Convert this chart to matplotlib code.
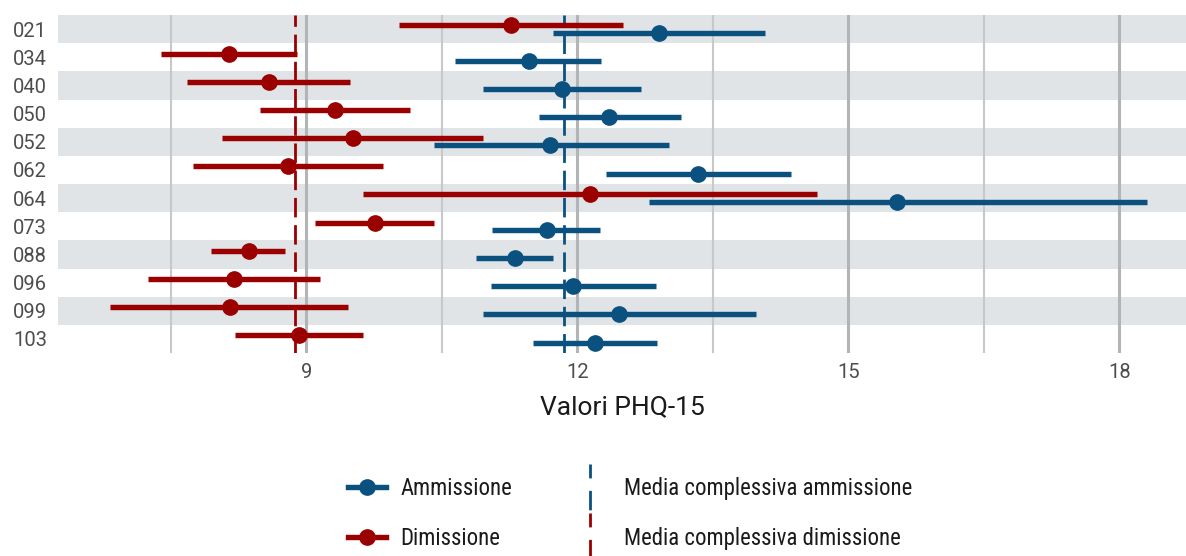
"""Forest plot PHQ-15: media e IC per paziente, ammissione vs dimissione."""
import matplotlib
matplotlib.use("Agg")
import matplotlib.pyplot as plt
import numpy as np
from matplotlib.legend_handler import HandlerBase
from matplotlib.lines import Line2D

plt.rcParams["font.family"] = ["Roboto", "DejaVu Sans"]
COND = ["Roboto Condensed", "Roboto", "DejaVu Sans"]

# --- dati ---
pazienti = ["021", "034", "040", "050", "052", "062", "064", "073", "088", "096", "099", "103"]

amm_mean = [12.90, 11.46, 11.83, 12.35, 11.70, 13.34, 15.54, 11.66, 11.31, 11.95, 12.46, 12.20]
amm_lo = [11.73, 10.65, 10.96, 11.57, 10.41, 12.32, 12.79, 11.06, 10.88, 11.04, 10.95, 11.51]
amm_hi = [14.08, 12.26, 12.71, 13.15, 13.01, 14.37, 18.31, 12.25, 11.73, 12.87, 13.98, 12.88]

dim_mean = [11.27, 8.14, 8.58, 9.32, 9.51, 8.80, 12.14, 9.76, 8.36, 8.20, 8.15, 8.92]
dim_lo = [10.03, 7.39, 7.68, 8.49, 8.07, 7.74, 9.63, 9.10, 7.94, 7.25, 6.83, 8.21]
dim_hi = [12.50, 8.90, 9.48, 10.15, 10.95, 9.85, 14.65, 10.41, 8.76, 9.15, 9.46, 9.63]

media_amm = 11.85
media_dim = 8.87

BLUE = "#0a5180"
RED = "#9b0000"
BAND = "#e1e4e7"
DASH = (0, (7, 2.8))


class VLineHandler(HandlerBase):
    """Legend key: vertical dashed line spanning the whole row."""

    def create_artists(self, legend, orig_handle, xdescent, ydescent,
                       width, height, fontsize, trans):
        x = width / 2 - xdescent
        mid = height / 2 - ydescent
        ln = Line2D([x, x], [mid + 17, mid - 17], color=orig_handle.get_color(),
                    lw=2.0, linestyle=(2, (7, 4.5)))
        ln.set_transform(trans)
        return [ln]


fig = plt.figure(figsize=(11.86, 5.56), dpi=100)
ax = fig.add_axes([0.049, 0.365, 0.951, 0.608])

y = np.arange(len(pazienti))
off = 0.13

for i in y[::2]:
    ax.axhspan(i - 0.5, i + 0.5, color=BAND, lw=0, zorder=0)

ax.axvline(media_amm, color=BLUE, lw=2.0, linestyle=DASH, zorder=2)
ax.axvline(media_dim, color=RED, lw=2.0, linestyle=DASH, zorder=2)

ax.hlines(y + off, amm_lo, amm_hi, color=BLUE, lw=3.9, zorder=3)
ax.plot(amm_mean, y + off, "o", color=BLUE, ms=11, zorder=4)
ax.hlines(y - off, dim_lo, dim_hi, color=RED, lw=3.9, zorder=3)
ax.plot(dim_mean, y - off, "o", color=RED, ms=11, zorder=4)

ax.set_xlim(6.25, 18.74)
ax.set_ylim(len(pazienti) - 0.5, -0.5)
ax.set_xticks([9, 12, 15, 18])
ax.set_xticks([7.5, 10.5, 13.5, 16.5], minor=True)
ax.set_yticks(y)
ax.set_yticklabels(pazienti)
ax.grid(True, which="major", axis="x", color="#b2b5b8", lw=2.2)
ax.grid(True, which="minor", axis="x", color="#c6c8ca", lw=1.5)
ax.grid(False, axis="y")
ax.set_axisbelow(True)
ax.tick_params(axis="both", which="both", length=0, labelsize=14.5, labelcolor="#4d4d4d")
ax.tick_params(axis="x", pad=7.5)
ax.tick_params(axis="y", pad=8)
for s in ax.spines.values():
    s.set_visible(False)
ax.set_xlabel("Valori PHQ-15", fontsize=19, color="#1a1a1a", labelpad=9)

handles = [
    Line2D([], [], color=BLUE, lw=3.9, marker="o", ms=11),
    Line2D([], [], color=RED, lw=3.9, marker="o", ms=11),
    Line2D([], [], color=BLUE, linestyle="--"),
    Line2D([], [], color=RED, linestyle="--"),
]
labels = ["Ammissione", "Dimissione",
          "Media complessiva ammissione", "Media complessiva dimissione"]
fig.legend(handles, labels, ncol=2, loc="center left", bbox_to_anchor=(0.284, 0.0764),
           frameon=False, prop={"family": COND, "size": 16.4}, borderpad=0,
           handlelength=1.65, handletextpad=0.65, labelspacing=1.15, columnspacing=2.6,
           handler_map={handles[2]: VLineHandler(), handles[3]: VLineHandler()},
           labelcolor="#1a1a1a")

fig.savefig("out.png", dpi=100)
